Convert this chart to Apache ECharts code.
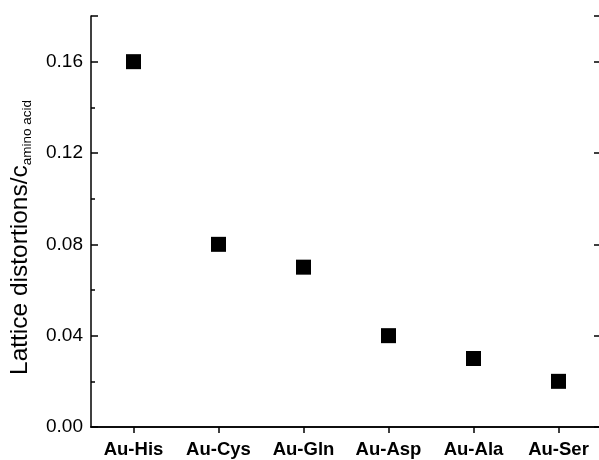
<!DOCTYPE html>
<html>
<head>
<meta charset="utf-8">
<script src="https://cdn.jsdelivr.net/npm/echarts@6/dist/echarts.min.js"></script>
<style>html,body{margin:0;padding:0;background:#fff}#c{width:599px;height:460px}</style>
</head>
<body>
<div id="c"></div>
<script>
var categories = ['Au-His', 'Au-Cys', 'Au-Gln', 'Au-Asp', 'Au-Ala', 'Au-Ser'];
var values = [0.16, 0.08, 0.07, 0.04, 0.03, 0.02];
var yTicks = [0, 0.04, 0.08, 0.12, 0.16];

var chart = echarts.init(document.getElementById('c'), null, {renderer: 'canvas'});
var lineStyle = {color: '#000', width: 1.5};
chart.setOption({
  animation: false,
  backgroundColor: '#fff',
  grid: {left: 91, right: -2, top: 16, bottom: 33, containLabel: false, outerBoundsMode: 'none'},
  xAxis: [{
    type: 'category', data: categories, position: 'bottom', boundaryGap: true,
    axisLine: {lineStyle: lineStyle},
    axisTick: {show: true, interval: 0, alignWithLabel: true, inside: false, length: 6, lineStyle: lineStyle},
    axisLabel: {interval: 0, hideOverlap: false, fontFamily: 'Liberation Sans, Arial', fontWeight: 'bold', fontSize: 18.5, color: '#000', margin: 13},
    splitLine: {show: false}
  }, {
    type: 'category', data: categories, position: 'top', boundaryGap: true,
    axisLine: {lineStyle: lineStyle}, axisTick: {show: false}, axisLabel: {show: false}, splitLine: {show: false}
  }],
  yAxis: [{
    type: 'value', min: 0, max: 0.18, interval: 0.04, position: 'left',
    name: '{a|Lattice distortions/c}{b|amino acid}',
    nameLocation: 'middle', nameGap: 57, nameRotate: 90,
    nameTextStyle: {
      padding: [0, 32, 0, 0],
      rich: {
        a: {fontFamily: 'Liberation Sans, Arial', fontSize: 24.5, color: '#000', lineHeight: 28},
        b: {fontFamily: 'Liberation Sans, Arial', fontSize: 13.5, color: '#000', lineHeight: 13, verticalAlign: 'bottom', padding: [9, 0, 0, 0]}
      }
    },
    axisLine: {show: true, lineStyle: lineStyle},
    axisTick: {show: true, inside: true, length: 7, lineStyle: lineStyle},
    minorTick: {show: true, splitNumber: 2, length: 4, lineStyle: lineStyle},
    axisLabel: {
      showMaxLabel: false, fontFamily: 'Liberation Sans, Arial', fontSize: 19, color: '#000', margin: 8,
      formatter: function (v) { return yTicks.some(function (t) { return Math.abs(t - v) < 1e-9; }) ? v.toFixed(2) : ''; }
    },
    splitLine: {show: false}
  }, {
    type: 'value', min: 0, max: 0.18, interval: 0.04, position: 'right',
    axisLine: {show: true, lineStyle: lineStyle},
    axisTick: {show: true, inside: true, length: 7, lineStyle: lineStyle},
    axisLabel: {show: false}, splitLine: {show: false}
  }],
  series: [{
    type: 'scatter', data: values, xAxisIndex: 0, yAxisIndex: 0,
    symbol: 'rect', symbolSize: 15, itemStyle: {color: '#000', opacity: 1}
  }]
});
</script>
</body>
</html>
